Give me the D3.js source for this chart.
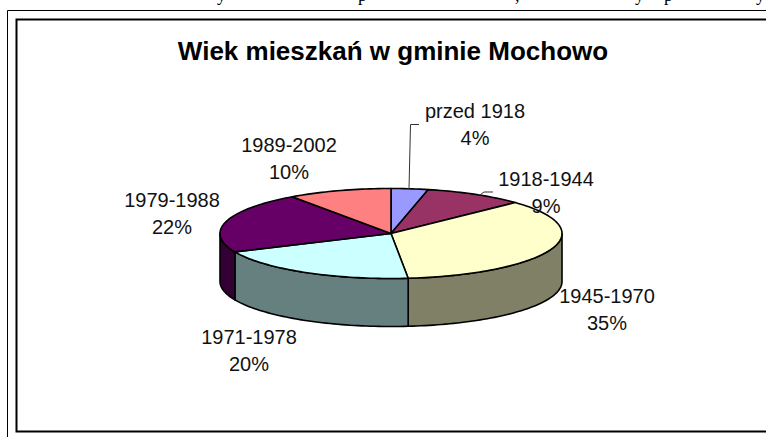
<!DOCTYPE html>
<html>
<head>
  <meta charset="utf-8">
  <title>Wiek mieszkań w gminie Mochowo</title>
  <script src="https://d3js.org/d3.v7.min.js"></script>
  <style>
    body { margin: 0; background: white; }
    svg { display: block; }
    text { font-family: "Liberation Sans", Arial, sans-serif; fill: #111; }
  </style>
</head>

<body>
<div id="output"></div>

<script type="text/javascript">

  var categories = ["przed 1918", "1918-1944", "1945-1970", "1971-1978", "1979-1988", "1989-2002"];
  // percent values; the labels show them rounded
  var values = [3.5, 9.45, 35.45, 19.9, 21.9, 9.8];
  var topColors = ["#9999ff", "#993366", "#ffffcc", "#ccffff", "#660066", "#ff8080"];
  var sideColors = ["#4d4d80", "#4d1a33", "#808066", "#668080", "#330033", "#804040"];
  var labelX = [475, 546, 607, 249, 172, 289];
  var labelY = [118, 186, 303, 344, 207, 152];

  // bottom of the line of body text above the frame, only the descenders show
  var cutLetters = ["y", "p", ",", "y", "p", "y"];
  var cutLetterX = [217, 358, 515, 635, 664, 756];

  var w = 766;
  var h = 437;
  var cx = 391, cy = 233.5, rx = 171, ry = 45, depth = 48;

  var x = d3.scaleLinear().domain([-1, 1]).range([cx - rx, cx + rx]);
  var y = d3.scaleLinear().domain([-1, 1]).range([cy - ry, cy + ry]);

  var svg = d3.select("#output").append("svg")
          .attr("width", w)
          .attr("height", h);

  svg.append("clipPath").attr("id", "topcut")
          .append("rect").attr("x", 0).attr("y", 0).attr("width", w).attr("height", 5);

  svg.append("g")
          .attr("clip-path", "url(#topcut)")
          .selectAll("text")
          .data(cutLetters)
          .enter()
          .append("text")
          .attr("x", function(d, i){ return cutLetterX[i]; })
          .attr("y", 1)
          .style("font-family", "'Liberation Serif', serif")
          .style("font-size", "18px")
          .style("fill", "#000")
          .text(function(d){ return d; });

  // frames, both run off the right edge of the picture
  svg.append("path")
          .attr("d", "M766,10.5H7.5V437")
          .attr("fill", "none")
          .attr("stroke", "#000")
          .attr("stroke-width", 1);

  svg.append("path")
          .attr("d", "M766,19.5H16.5V431.5H766")
          .attr("fill", "none")
          .attr("stroke", "#000")
          .attr("stroke-width", 2);

  svg.append("text")
          .attr("x", 393)
          .attr("y", 60)
          .attr("text-anchor", "middle")
          .style("font-size", "26px")
          .style("font-weight", "bold")
          .style("fill", "#000")
          .text("Wiek mieszkań w gminie Mochowo");

  var pie = d3.pie().sort(null).value(function(d){ return d; });
  var slices = pie(values);

  function px(a){ return x(Math.sin(a)); }
  function py(a){ return y(-Math.cos(a)); }

  var line = d3.line();

  function arcPoints(a0, a1, dy) {
    var n = Math.max(2, Math.ceil((a1 - a0) * 40));
    return d3.range(n + 1).map(function(i){
      var a = a0 + (a1 - a0) * i / n;
      return [px(a), py(a) + dy];
    });
  }

  // side walls, only the front half of the rim can be seen
  var chart = svg.append("g");

  chart.selectAll(".side")
          .data(slices)
          .enter()
          .append("path")
          .attr("class", "side")
          .attr("d", function(d){
            var a0 = Math.max(d.startAngle, Math.PI / 2);
            var a1 = Math.min(d.endAngle, Math.PI * 1.5);
            if (a1 <= a0) return null;
            return line(arcPoints(a0, a1, 0).concat(arcPoints(a0, a1, depth).reverse())) + "Z";
          })
          .attr("fill", function(d, i){ return sideColors[i]; })
          .attr("stroke", "#000")
          .attr("stroke-width", 1.6)
          .attr("stroke-linejoin", "round");

  chart.selectAll(".circles")
          .data(slices)
          .enter()
          .append("path")
          .attr("class", "circles")
          .attr("d", function(d){
            return line([[cx, cy]].concat(arcPoints(d.startAngle, d.endAngle, 0))) + "Z";
          })
          .attr("fill", function(d, i){ return topColors[i]; })
          .attr("stroke", "#000")
          .attr("stroke-width", 1.6)
          .attr("stroke-linejoin", "round");

  // leader lines of the two small slices
  var leaders = [
    [[409, 189], [410.5, 124.5], [419, 124.5]],
    [[480, 195], [484, 192], [493, 192]]
  ];

  svg.selectAll(".leader")
          .data(leaders)
          .enter()
          .append("path")
          .attr("class", "leader")
          .attr("d", function(d){ return line(d); })
          .attr("fill", "none")
          .attr("stroke", "#333")
          .attr("stroke-width", 1);

  var labels = svg.selectAll(".label")
          .data(categories)
          .enter()
          .append("text")
          .attr("class", "label")
          .attr("text-anchor", "middle")
          .style("font-size", "20px");

  labels.append("tspan")
          .attr("x", function(d, i){ return labelX[i]; })
          .attr("y", function(d, i){ return labelY[i]; })
          .text(function(d){ return d; });

  labels.append("tspan")
          .attr("x", function(d, i){ return labelX[i]; })
          .attr("y", function(d, i){ return labelY[i] + 27; })
          .text(function(d, i){ return Math.round(values[i]) + "%"; });

</script>

</body>
</html>
